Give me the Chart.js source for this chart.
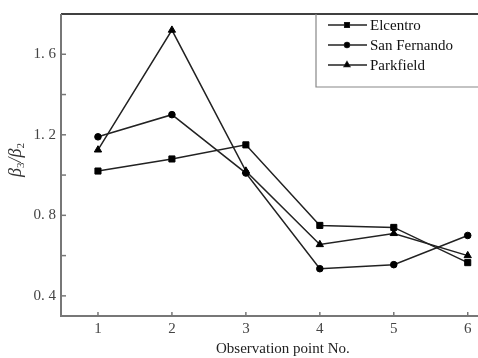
<!DOCTYPE html>
<html>
<head>
<meta charset="utf-8">
<script src="https://cdn.jsdelivr.net/npm/chart.js@4/dist/chart.umd.min.js"></script>
<style>
html,body{margin:0;padding:0;background:#fff;overflow:hidden;width:478px;height:358px;}
#wrap{width:510px;height:358px;position:relative;}
</style>
</head>
<body>
<div id="wrap"><canvas id="c" width="510" height="358"></canvas></div>
<script>
const categories = [1, 2, 3, 4, 5, 6];
const seriesNames = ['Elcentro', 'San Fernando', 'Parkfield'];
const elcentro    = [1.02, 1.08, 1.15, 0.75, 0.74, 0.565];
const sanFernando = [1.19, 1.30, 1.01, 0.535, 0.555, 0.70];
const parkfield   = [1.125, 1.72, 1.02, 0.655, 0.71, 0.60];
const yTicks = [0.4, 0.6, 0.8, 1.0, 1.2, 1.4, 1.6];
const yLabeled = [0.4, 0.8, 1.2, 1.6];
const xTitle = 'Observation point No.';

const FONT = '"Liberation Serif", "Times New Roman", serif';
const LINE = '#222';
const AXIS = '#777';
const styles = ['rect', 'circle', 'triangle'];
const radii = [4.3, 3.3, 4.2];

function mk(name, vals, i) {
  return {
    label: name,
    data: categories.map((c, k) => ({x: c, y: vals[k]})),
    borderColor: LINE, backgroundColor: '#000',
    borderWidth: 1.5, pointStyle: styles[i], pointRadius: radii[i],
    pointBorderWidth: 1, pointBorderColor: '#000', tension: 0
  };
}

const decor = {
  id: 'decor',
  afterDraw(chart) {
    const ctx = chart.ctx, a = chart.chartArea;
    const xs = chart.scales.x, ys = chart.scales.y;
    ctx.save();
    ctx.strokeStyle = '#000'; ctx.lineWidth = 1.5;
    ctx.beginPath(); ctx.moveTo(a.left, a.top); ctx.lineTo(a.right + 2, a.top); ctx.stroke();
    ctx.strokeStyle = AXIS; ctx.lineWidth = 2;
    ctx.beginPath(); ctx.moveTo(a.left, a.top); ctx.lineTo(a.left, a.bottom); ctx.lineTo(a.right + 2, a.bottom); ctx.stroke();
    ctx.lineWidth = 1.5;
    yTicks.forEach(v => { const p = ys.getPixelForValue(v); ctx.beginPath(); ctx.moveTo(a.left, p); ctx.lineTo(a.left + 5, p); ctx.stroke(); });
    categories.forEach(v => { const p = xs.getPixelForValue(v); ctx.beginPath(); ctx.moveTo(p, a.bottom); ctx.lineTo(p, a.bottom - 4); ctx.stroke(); });
    ctx.fillStyle = '#333';
    ctx.translate(16, 160); ctx.rotate(-Math.PI / 2);
    ctx.textBaseline = 'middle'; ctx.textAlign = 'left';
    const parts = [['β', 'italic 18px ' + FONT, 0], ['3', '11px ' + FONT, 5], ['/', 'italic 18px ' + FONT, 0], ['β', 'italic 18px ' + FONT, 0], ['2', '11px ' + FONT, 5]];
    let w = 0;
    parts.forEach(p => { ctx.font = p[1]; w += ctx.measureText(p[0]).width; });
    let x = -w / 2;
    parts.forEach(p => { ctx.font = p[1]; ctx.fillText(p[0], x, p[2]); x += ctx.measureText(p[0]).width; });
    ctx.restore();
    ctx.save();
    const lx = 316, ly = a.top, lb = 87;
    ctx.strokeStyle = '#888'; ctx.lineWidth = 1.2;
    ctx.beginPath(); ctx.moveTo(lx, ly); ctx.lineTo(lx, lb); ctx.lineTo(chart.width, lb); ctx.stroke();
    ctx.font = '15px ' + FONT; ctx.textBaseline = 'middle'; ctx.fillStyle = '#111';
    chart.data.datasets.forEach((ds, i) => {
      const y = 25 + i * 20;
      ctx.strokeStyle = LINE; ctx.lineWidth = 1.5;
      ctx.beginPath(); ctx.moveTo(328, y); ctx.lineTo(367, y); ctx.stroke();
      Chart.helpers.drawPoint(ctx, {pointStyle: ds.pointStyle, radius: ds.pointRadius * 0.75, borderWidth: 1}, 347, y);
      ctx.fillStyle = '#000';
      ctx.fill();
      ctx.fillStyle = '#111';
      ctx.fillText(ds.label, 370, y + 1);
    });
    ctx.restore();
  }
};

new Chart(document.getElementById('c'), {
  type: 'line',
  data: { datasets: [mk(seriesNames[0], elcentro, 0), mk(seriesNames[1], sanFernando, 1), mk(seriesNames[2], parkfield, 2)] },
  options: {
    responsive: false, animation: false,
    layout: { padding: { top: 9, right: 1, left: 0, bottom: 0 } },
    plugins: { legend: { display: false }, tooltip: { enabled: false } },
    scales: {
      x: {
        type: 'linear', min: 0.5, max: 6.5,
        grid: { display: false, drawTicks: false }, border: { display: false },
        afterBuildTicks: s => { s.ticks = categories.map(v => ({value: v})); },
        afterFit: s => { s.height = 42; },
        ticks: { color: '#444', font: { family: FONT, size: 15 }, padding: 4, maxRotation: 0,
          callback: v => String(v) },
        title: { display: true, text: xTitle, color: '#222', font: { family: FONT, size: 15 }, padding: { top: 0, bottom: 0 } }
      },
      y: {
        min: 0.3, max: 1.8,
        grid: { display: false, drawTicks: false }, border: { display: false },
        afterBuildTicks: s => { s.ticks = yTicks.map(v => ({value: v})); },
        afterFit: s => { s.width = 61; },
        ticks: { color: '#444', font: { family: FONT, size: 15 }, padding: 5,
          callback: v => yLabeled.some(t => Math.abs(t - v) < 1e-6) ? v.toFixed(1).replace('.', '. ') : '' }
      }
    }
  },
  plugins: [decor]
});
</script>
</body>
</html>
